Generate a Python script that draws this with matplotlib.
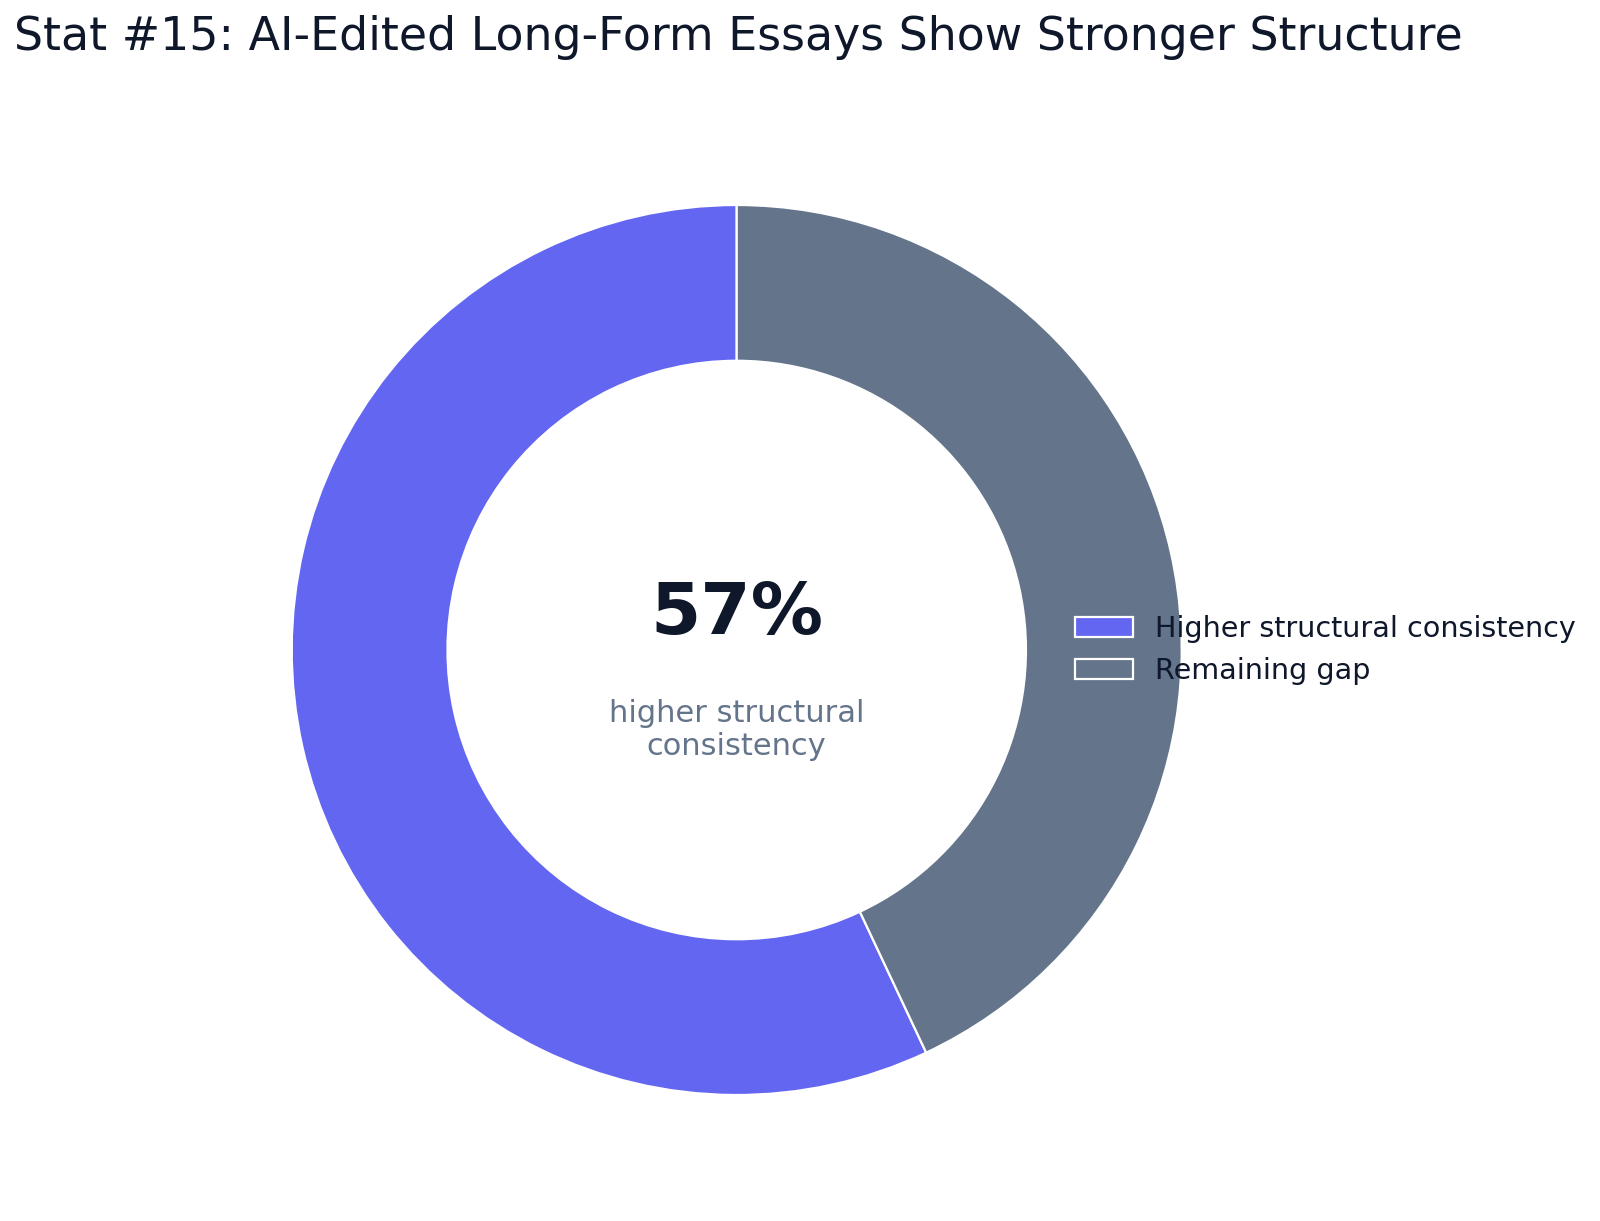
import matplotlib.pyplot as plt

# data
labels = ['Higher structural consistency', 'Remaining gap']
values = [57, 43]
colors = ['#6366F1', '#64748B']
big_label = '57%'
sub_label = 'higher structural\nconsistency'

fig = plt.figure(figsize=(8, 6.105), dpi=200)
ax = fig.add_axes([0.1823, 0.1032, 0.5563, 0.7289])

wedges, _ = ax.pie(values, colors=colors, startangle=90, counterclock=True,
                   wedgeprops=dict(width=0.35, edgecolor='white', linewidth=0.8))
ax.set_xlim(-1, 1)
ax.set_ylim(-1, 1)
ax.set_aspect('equal')

ax.text(0, 0.08, big_label, ha='center', va='center', fontsize=26,
        fontweight='bold', color='#0F172A')
ax.text(0, -0.18, sub_label, ha='center', va='center', fontsize=11,
        color='#64748B', linespacing=1.18)

fig.legend(wedges, labels, loc='center left', bbox_to_anchor=(0.656, 0.4676),
           frameon=False, fontsize=10.3, labelcolor='#0F172A')

fig.text(0.009, 0.9875, 'Stat #15: AI-Edited Long-Form Essays Show Stronger Structure',
         ha='left', va='top', fontsize=16.5, color='#0F172A')

fig.savefig('out.png', dpi=200)
